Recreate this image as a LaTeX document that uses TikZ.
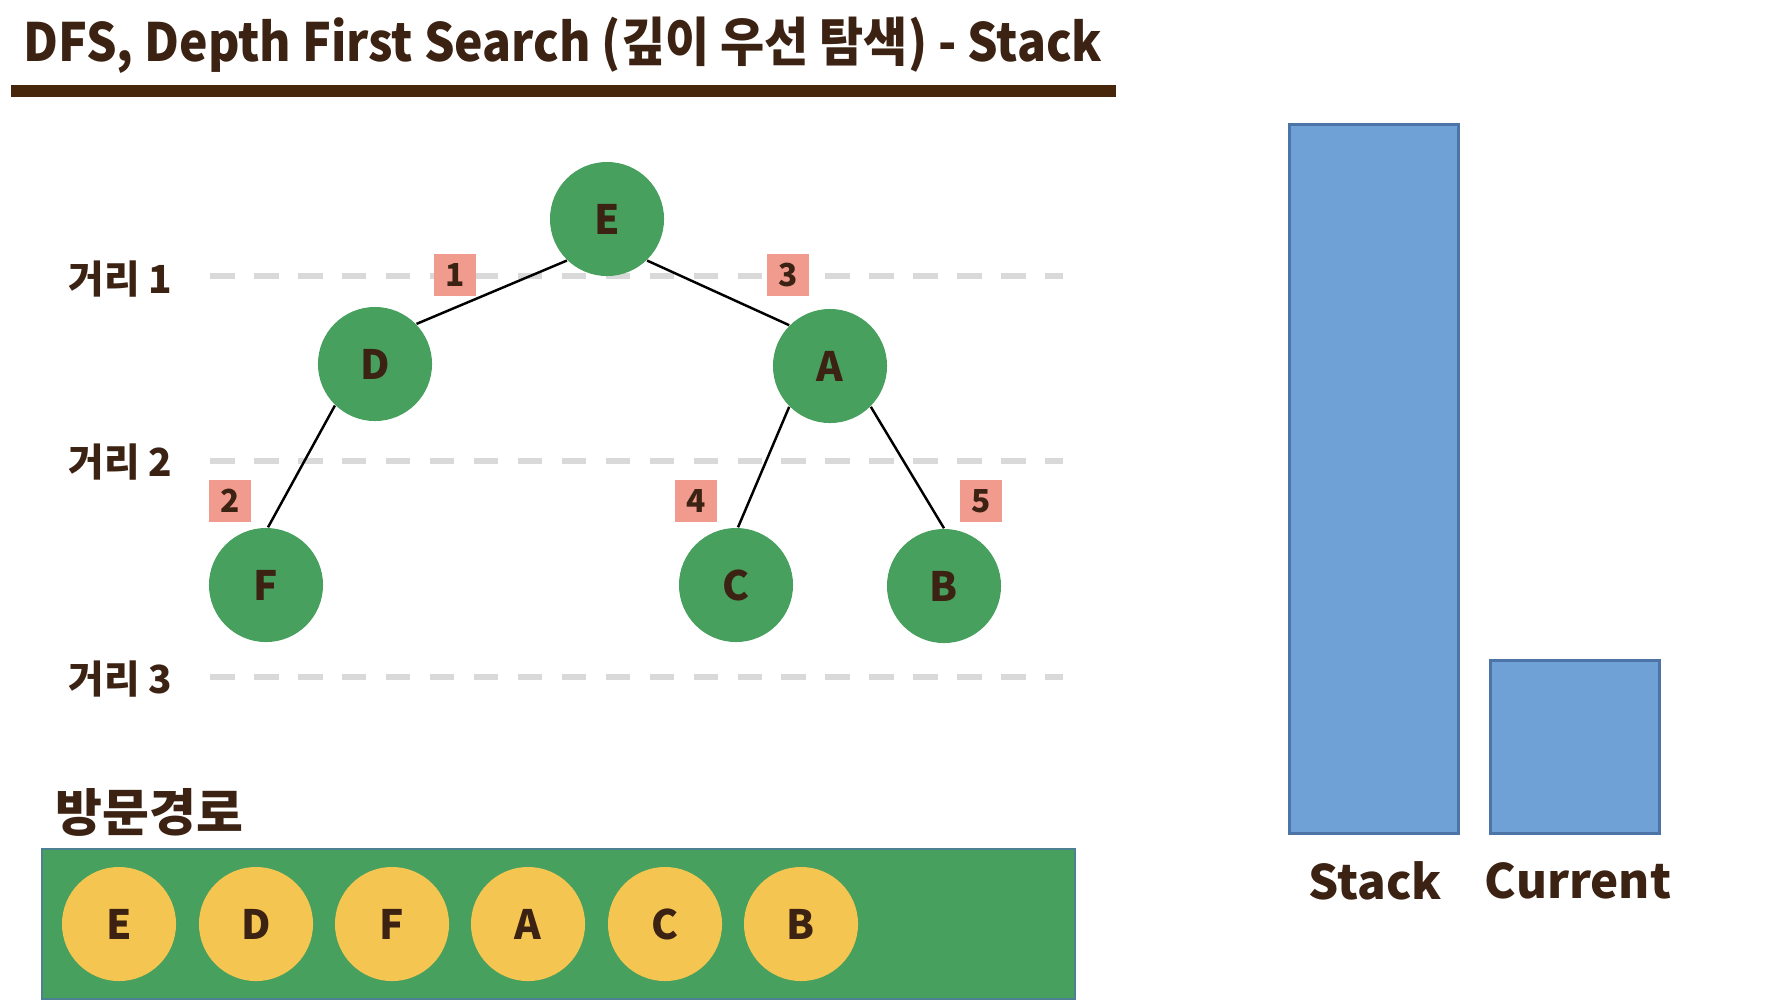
\documentclass[tikz,border=0pt]{standalone}
\usepackage{fontspec}
\setmainfont{Noto Sans CJK KR}
\definecolor{brn}{HTML}{3B2212}
\definecolor{bar}{HTML}{47270C}
\definecolor{grn}{HTML}{48A05E}
\definecolor{ylw}{HTML}{F5C551}
\definecolor{sal}{HTML}{F19A8E}
\definecolor{blu}{HTML}{6FA0D6}
\definecolor{blub}{HTML}{4D74A6}
\definecolor{dsh}{HTML}{D9D9D9}
\begin{document}
\begin{tikzpicture}[x=0.01cm,y=-0.01cm,
  tnode/.style={circle,fill=grn,minimum size=1.14cm,inner sep=0pt,font=\bfseries\fontsize{11.5}{11.5}\selectfont,text=brn},
  vnode/.style={circle,fill=ylw,minimum size=1.14cm,inner sep=0pt,font=\bfseries\fontsize{11.5}{11.5}\selectfont,text=brn},
  numbox/.style={rectangle,fill=sal,minimum size=0.42cm,inner sep=0pt,font=\bfseries\fontsize{9}{9}\selectfont,text=brn},
  lvl/.style={anchor=west,inner sep=0pt,font=\bfseries\fontsize{11}{11}\selectfont,text=brn},
  dline/.style={dsh,line width=1.5pt,dash pattern=on 7pt off 5.5pt},
  edge/.style={black,line width=0.7pt}]
\useasboundingbox (0,0) rectangle (1782,1002);
\fill[white] (0,0) rectangle (1782,1002);
% title
\node[anchor=west,inner sep=0pt,font=\bfseries\fontsize{15}{15}\selectfont,text=brn] (title) at (23,45) {\scalebox{0.91}[1]{DFS, Depth First Search (깊이 우선 탐색) - Stack}};
\fill[bar] (11,85) rectangle (1116,97);
% level lines
\coordinate (l1a) at (210,276); \coordinate (l1b) at (1063,276);
\coordinate (l2a) at (210,461); \coordinate (l2b) at (1063,461);
\coordinate (l3a) at (210,677); \coordinate (l3b) at (1063,677);
\draw[dline] (l1a) -- (l1b);
\draw[dline] (l2a) -- (l2b);
\draw[dline] (l3a) -- (l3b);
\node[lvl] (g1) at (68,279) {거리 1};
\node[lvl] (g2) at (68,462) {거리 2};
\node[lvl] (g3) at (68,679) {거리 3};
% tree
\node[tnode] (E) at (607,219) {E};
\node[tnode] (D) at (375,364) {D};
\node[tnode] (A) at (830,366) {A};
\node[tnode] (F) at (266,585) {F};
\node[tnode] (C) at (736,585) {C};
\node[tnode] (B) at (944,586) {B};
\draw[edge] (E.226) -- (D.44);
\draw[edge] (E.314) -- (A.135);
\draw[edge] (D.226) -- (F.88);
\draw[edge] (A.225) -- (C.88);
\draw[edge] (A.315) -- (B.90);
\node[numbox] (n1) at (455,275) {1};
\node[numbox] (n3) at (788,275) {3};
\node[numbox] (n2) at (230,501) {2};
\node[numbox] (n4) at (696,501) {4};
\node[numbox] (n5) at (981,501) {5};
% visit path
\node[anchor=west,inner sep=0pt,font=\bfseries\fontsize{14.5}{14.5}\selectfont,text=brn] (path) at (55,812) {방문경로};
\node[draw=blub!70!grn,line width=0.6pt,fill=grn,minimum width=10.32cm,minimum height=1.5cm,inner sep=0pt,anchor=north west] (pbox) at (41,848) {};
\node[vnode] (v1) at (119,924) {E};
\node[vnode] (v2) at (256,924) {D};
\node[vnode] (v3) at (392,924) {F};
\node[vnode] (v4) at (528,924) {A};
\node[vnode] (v5) at (665,924) {C};
\node[vnode] (v6) at (801,924) {B};
% stack and current
\node[draw=blub,line width=0.8pt,fill=blu,minimum width=1.69cm,minimum height=7.09cm,inner sep=0pt,anchor=north west] (stack) at (1288,123) {};
\node[draw=blub,line width=0.8pt,fill=blu,minimum width=1.69cm,minimum height=1.73cm,inner sep=0pt,anchor=north west] (cur) at (1489,659) {};
\node[font=\bfseries\fontsize{13.5}{13.5}\selectfont,text=brn] (stl) at (1375,881) {Stack};
\node[font=\bfseries\fontsize{13.5}{13.5}\selectfont,text=brn] (cul) at (1578,881) {Current};
\end{tikzpicture}
\end{document}
